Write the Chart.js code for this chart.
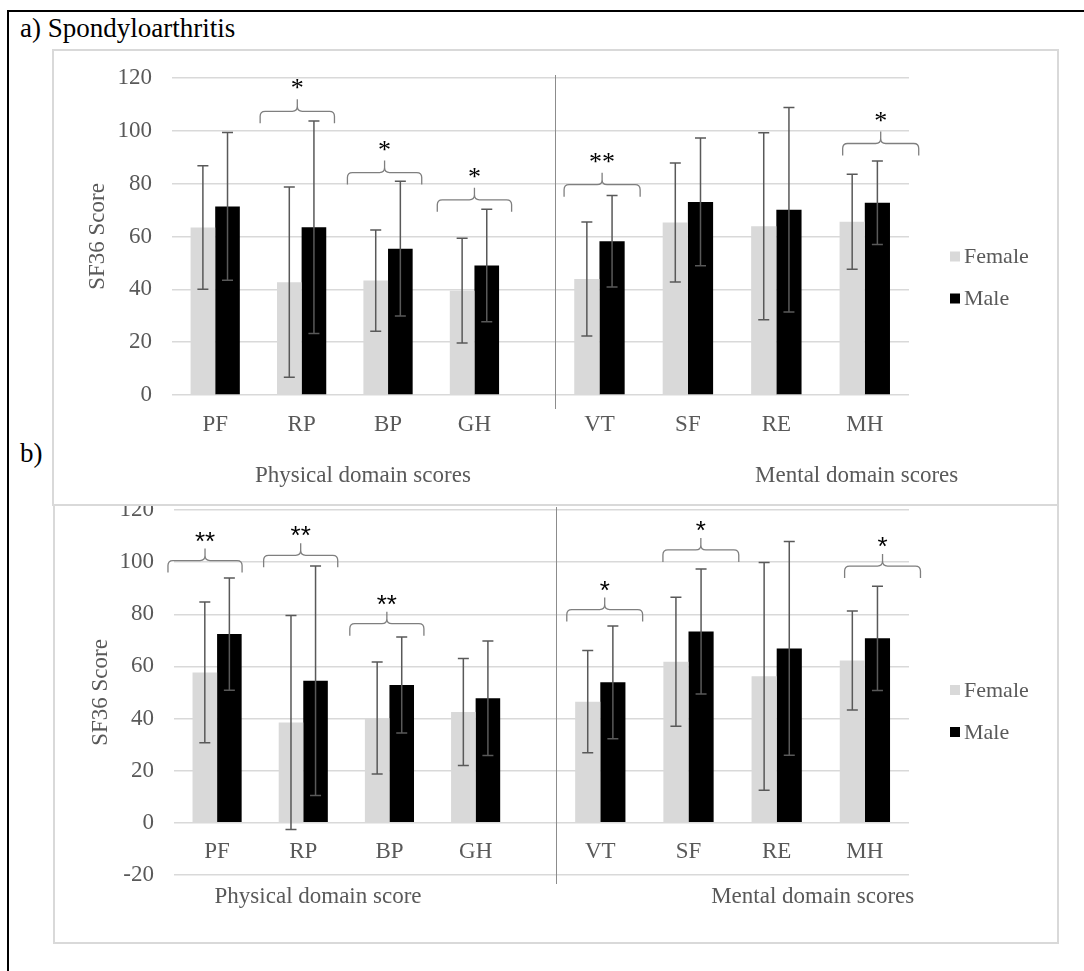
<!DOCTYPE html>
<html>
<head>
<meta charset="utf-8">
<script src="https://cdn.jsdelivr.net/npm/chart.js@4.4.1/dist/chart.umd.min.js"></script>
<style>
  html, body { margin: 0; padding: 0; background: #fff; }
  body { width: 1084px; height: 971px; position: relative; overflow: hidden; font-family: 'Liberation Serif', 'Times New Roman', serif; }
  #outer { position: absolute; left: 7px; top: 10px; width: 1100px; height: 1000px; border-left: 2px solid #000; border-top: 2px solid #000; }
  .box { position: absolute; background: #fff; border: 2px solid #d9d9d9; }
  #boxA { left: 52px; top: 49px; width: 1003px; height: 453px; z-index: 2; }
  #boxB { left: 53px; top: 478px; width: 1002px; height: 462px; z-index: 1; }
  .box canvas { position: absolute; left: 0; top: 0; }
  .panel { position: absolute; font-size: 27px; color: #000; z-index: 3; line-height: 1; }
  #labA { left: 20px; top: 15px; }
  #labB { left: 20px; top: 440px; }
</style>
</head>
<body>
<div id="outer"></div>
<div class="panel" id="labA">a) Spondyloarthritis</div>
<div class="panel" id="labB">b)</div>
<div class="box" id="boxA"><canvas id="chartA" width="1003" height="453"></canvas></div>
<div class="box" id="boxB"><canvas id="chartB" width="1002" height="462"></canvas></div>
<script>
// ---------- data ----------
const categoriesPhysical = ['PF', 'RP', 'BP', 'GH'];
const categoriesMental = ['VT', 'SF', 'RE', 'MH'];
const seriesNames = ['Female', 'Male'];

// a) Spondyloarthritis
const femaleA = [63.4, 42.7, 43.3, 39.5, 43.9, 65.3, 63.9, 65.6];
const femaleAErr = [23.4, 36.0, 19.2, 19.8, 21.6, 22.5, 35.4, 18.0];
const maleA = [71.4, 63.5, 55.4, 49.0, 58.2, 73.1, 70.1, 72.8];
const maleAErr = [28.0, 40.2, 25.5, 21.3, 17.3, 24.2, 38.7, 15.8];
const sigA = ['', '*', '*', '*', '**', '', '', '*'];
const bracketA = [null, 107.4, 84.2, 73.9, 79.6, null, null, 95.2];
const yTicksA = [0, 20, 40, 60, 80, 100, 120];
const groupTitlesA = ['Physical domain scores', 'Mental domain scores'];

// b)
const femaleB = [57.7, 38.5, 40.2, 42.5, 46.5, 61.8, 56.2, 62.3];
const femaleBErr = [27.0, 41.0, 21.5, 20.5, 19.6, 24.7, 43.7, 19.0];
const maleB = [72.4, 54.5, 52.9, 47.8, 53.9, 73.4, 66.9, 70.8];
const maleBErr = [21.5, 44.0, 18.4, 22.0, 21.6, 24.0, 41.0, 20.0];
const sigB = ['**', '**', '**', '', '*', '*', '', '*'];
const bracketB = [100.6, 102.6, 76.4, null, 81.8, 104.7, null, 98.5];
const yTicksB = [-20, 0, 20, 40, 60, 80, 100, 120];
const groupTitlesB = ['Physical domain score', 'Mental domain scores'];

// ---------- styles ----------
const GRAY_TEXT = '#595959';
const FEMALE_COLOR = '#d9d9d9';
const MALE_COLOR = '#000000';
const SERIF = "'Liberation Serif', 'Times New Roman', serif";
const SANS = "'Liberation Sans', Arial, sans-serif";
const SPLIT_L = 0.469, SPLIT_R = 0.52;   // physical / mental parts of the plot width
const BAR_FRAC = 0.285;                  // one bar as a share of a category's width

// label axes (xP, xM) and bar axes (one per sex and group, shifted half a bar apart)
const splitPlugin = {
  id: 'splitX',
  afterLayout(chart) {
    const ca = chart.chartArea, W = ca.right - ca.left;
    const place = (s, l, r) => { s.left = l; s.right = r; s.width = r - l; s.configure(); };
    const pL = ca.left, pR = ca.left + W * SPLIT_L;
    const mL = ca.left + W * SPLIT_R, mR = ca.right;
    const hp = (pR - pL) / 4 * BAR_FRAC / 2, hm = (mR - mL) / 4 * BAR_FRAC / 2;
    const S = chart.scales;
    place(S.xP, pL, pR); place(S.xM, mL, mR);
    place(S.xPF, pL - hp, pR - hp); place(S.xPM, pL + hp, pR + hp);
    place(S.xMF, mL - hm, mR - hm); place(S.xMM, mL + hm, mR + hm);
  }
};

const decorPlugin = {
  id: 'decor',
  afterDatasetsDraw(chart, args, o) {
    const ctx = chart.ctx, y = chart.scales.y, ca = chart.chartArea;
    ctx.save();
    // error bars
    chart.data.datasets.forEach((ds, di) => {
      const meta = chart.getDatasetMeta(di);
      meta.data.forEach((bar, i) => {
        const v = ds.data[i], e = ds.err[i];
        const yt = y.getPixelForValue(v + e), yb = y.getPixelForValue(v - e);
        ctx.strokeStyle = '#595959'; ctx.lineWidth = 1.5;
        ctx.beginPath();
        ctx.moveTo(bar.x, yt); ctx.lineTo(bar.x, yb);
        ctx.moveTo(bar.x - 5.5, yt); ctx.lineTo(bar.x + 5.5, yt);
        ctx.moveTo(bar.x - 5.5, yb); ctx.lineTo(bar.x + 5.5, yb);
        ctx.stroke();
      });
    });
    // divider
    const xM = chart.scales.xM, xP = chart.scales.xP;
    ctx.strokeStyle = '#8c8c8c'; ctx.lineWidth = 1;
    ctx.beginPath();
    ctx.moveTo(Math.round(xM.left) + 0.5, ca.top - 3);
    ctx.lineTo(Math.round(xM.left) + 0.5, o.dividerBottom(chart));
    ctx.stroke();
    // brackets
    o.levels.forEach((lv, i) => {
      if (lv === null) return;
      const sc = i < 4 ? xP : xM;
      const idx = i < 4 ? i : i - 4;
      const cw = sc.width / 4;
      const cx = sc.getPixelForValue(idx) + (o.shift[i] || 0) * cw;
      const hw = cw * 0.43;
      const by = y.getPixelForValue(lv);
      const d = 12, r = 5, p = 12;
      const L = cx - hw, R = cx + hw;
      ctx.strokeStyle = '#7f7f7f'; ctx.lineWidth = 1.3;
      ctx.beginPath();
      ctx.moveTo(L, by + d); ctx.lineTo(L, by + r); ctx.quadraticCurveTo(L, by, L + r, by);
      ctx.lineTo(cx - r, by); ctx.quadraticCurveTo(cx, by, cx, by - r); ctx.lineTo(cx, by - p);
      ctx.moveTo(cx, by - r); ctx.quadraticCurveTo(cx, by, cx + r, by);
      ctx.lineTo(R - r, by); ctx.quadraticCurveTo(R, by, R, by + r); ctx.lineTo(R, by + d);
      ctx.stroke();
      ctx.fillStyle = '#000'; ctx.textAlign = 'center'; ctx.textBaseline = 'alphabetic';
      ctx.font = o.starFont;
      ctx.fillText(o.sig[i], cx, by - o.starLift);
    });
    // legend
    const lx = ca.right + 41, ly = chart.height / 2;
    [[seriesNames[0], FEMALE_COLOR, -21], [seriesNames[1], MALE_COLOR, 21]].forEach(([t, c, dy]) => {
      ctx.fillStyle = c; ctx.fillRect(lx, ly + dy - 5, 10, 10);
      ctx.fillStyle = GRAY_TEXT; ctx.font = '22px ' + SERIF; ctx.textAlign = 'left'; ctx.textBaseline = 'middle';
      ctx.fillText(t, lx + 14, ly + dy + 1);
    });
    // group titles
    ctx.fillStyle = GRAY_TEXT; ctx.font = '23px ' + SERIF; ctx.textAlign = 'center'; ctx.textBaseline = 'middle';
    const W = ca.right - ca.left, gy = o.groupY(chart);
    ctx.fillText(o.groups[0], ca.left + W * o.groupPos[0], gy);
    ctx.fillText(o.groups[1], ca.left + W * o.groupPos[1], gy);
    ctx.restore();
  }
};

function makeChart(id, F, FE, M, ME, ticks, pad, yWidth, titlePad, xPad, decor) {
  const mk = (label, data, err, axis, color) => ({
    label, data, err, xAxisID: axis, backgroundColor: color, borderWidth: 0,
    grouped: false, categoryPercentage: BAR_FRAC, barPercentage: 1.0
  });
  const labelScale = (labels) => ({
    type: 'category', axis: 'x', labels, position: { y: 0 }, offset: true,
    grid: { display: false, drawTicks: false }, border: { display: false },
    ticks: { color: GRAY_TEXT, font: { family: SERIF, size: 23 }, padding: xPad, maxRotation: 0, autoSkip: false }
  });
  const barScale = (labels) => ({ type: 'category', axis: 'x', labels, position: { y: 0 }, offset: true, display: false });
  return new Chart(document.getElementById(id), {
    type: 'bar',
    data: {
      datasets: [
        mk(seriesNames[0], F.slice(0, 4), FE.slice(0, 4), 'xPF', FEMALE_COLOR),
        mk(seriesNames[1], M.slice(0, 4), ME.slice(0, 4), 'xPM', MALE_COLOR),
        mk(seriesNames[0], F.slice(4), FE.slice(4), 'xMF', FEMALE_COLOR),
        mk(seriesNames[1], M.slice(4), ME.slice(4), 'xMM', MALE_COLOR)
      ]
    },
    options: {
      responsive: false, animation: false, devicePixelRatio: 1,
      layout: { padding: pad },
      scales: {
        xP: labelScale(categoriesPhysical),
        xM: labelScale(categoriesMental),
        xPF: barScale(categoriesPhysical),
        xPM: barScale(categoriesPhysical),
        xMF: barScale(categoriesMental),
        xMM: barScale(categoriesMental),
        y: {
          stacked: false,
          min: ticks[0], max: ticks[ticks.length - 1],
          afterFit(s) { s.width = yWidth; s.paddingTop = 0; s.paddingBottom = 0; },
          afterBuildTicks(s) { s.ticks = ticks.map(v => ({ value: v })); },
          grid: { color: '#d9d9d9', lineWidth: 1.5, drawTicks: false },
          border: { display: false },
          ticks: { color: GRAY_TEXT, font: { family: SERIF, size: 23 }, padding: 20 },
          title: { display: true, text: 'SF36 Score', color: GRAY_TEXT, font: { family: SERIF, size: 23 }, padding: { top: titlePad, bottom: 0 } }
        }
      },
      plugins: { legend: { display: false }, tooltip: { enabled: false }, decor }
    },
    plugins: [splitPlugin, decorPlugin]
  });
}

makeChart('chartA', femaleA, femaleAErr, maleA, maleAErr, yTicksA,
  { left: 0, top: 27, right: 148, bottom: 109 }, 118, 30, 16,
  {
    levels: bracketA, sig: sigA, shift: [0, -0.05, -0.04, 0, 0.03, 0, 0, 0.18],
    starFont: '26px ' + SERIF, starLift: 15,
    groups: groupTitlesA, groupPos: [0.259, 0.929],
    groupY: c => c.chartArea.bottom + 81,
    dividerBottom: c => c.chartArea.bottom + 14
  });

makeChart('chartB', femaleB, femaleBErr, maleB, maleBErr, yTicksB,
  { left: 0, top: 30, right: 148, bottom: 67 }, 119, 32, 15,
  {
    levels: bracketB, sig: sigB, shift: [-0.14, -0.03, -0.03, 0, 0.05, 0.14, 0, 0.2],
    starFont: '26px ' + SANS, starLift: 11,
    groups: groupTitlesB, groupPos: [0.196, 0.869],
    groupY: c => c.chartArea.bottom + 22,
    dividerBottom: c => c.chartArea.bottom + 9
  });
</script>
</body>
</html>
